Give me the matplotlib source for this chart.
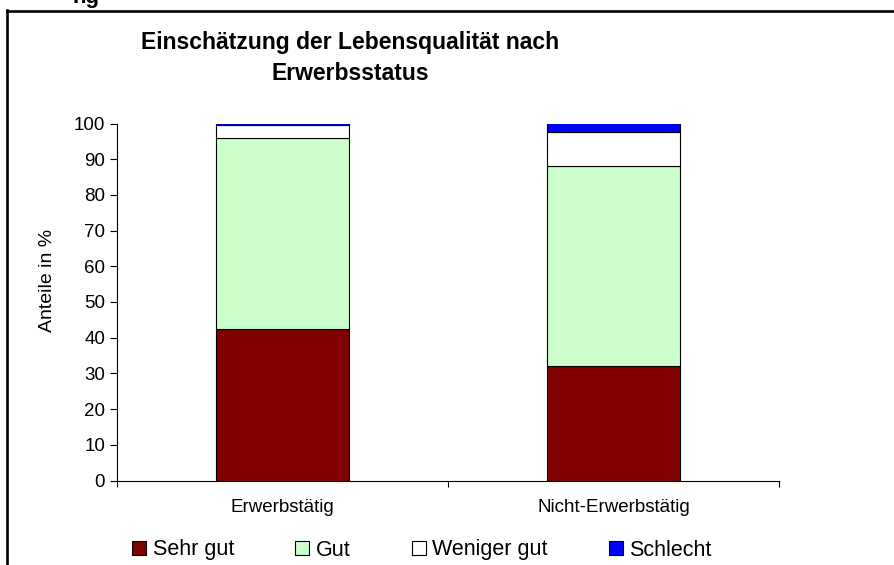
import matplotlib.pyplot as plt
from matplotlib.lines import Line2D
from matplotlib.patches import Patch

plt.rcParams['font.family'] = ['Liberation Sans', 'DejaVu Sans']

# data (percent)
categories = ['Erwerbstätig', 'Nicht-Erwerbstätig']
series_names = ['Sehr gut', 'Gut', 'Weniger gut', 'Schlecht']
sehr_gut = [42.4, 32.0]
gut = [53.5, 56.0]
weniger_gut = [3.7, 9.6]
schlecht = [0.4, 2.4]
colors = ['#800000', '#CCFFCC', '#FFFFFF', '#0000FF']

W, H = 894, 565
fig = plt.figure(figsize=(W / 100, H / 100), dpi=100)
ax = fig.add_axes([117 / W, 1 - 480.5 / H, 662 / W, 357 / H])

x = list(range(len(categories)))
bottom = [0.0] * len(categories)
for name, vals, col in zip(series_names, [sehr_gut, gut, weniger_gut, schlecht], colors):
    ax.bar(x, vals, width=0.4, bottom=bottom, color=col, edgecolor='black',
           linewidth=0.8, label=name)
    bottom = [b + v for b, v in zip(bottom, vals)]

ax.set_xlim(-0.5, 1.5)
ax.set_ylim(0, 100)
ax.set_yticks(range(0, 101, 10))
ax.tick_params(axis='y', direction='out', length=5, width=0.8, pad=3.5, labelsize=13.5)

# ticks on category boundaries, labels at centres
ax.set_xticks([-0.5, 0.5, 1.5])
ax.set_xticklabels([])
ax.set_xticks(x, minor=True)
ax.set_xticklabels(categories, minor=True)
ax.tick_params(axis='x', which='major', direction='out', length=4, width=0.8)
ax.tick_params(axis='x', which='minor', length=0, pad=13.5, labelsize=13.5)

for s in ['top', 'right']:
    ax.spines[s].set_visible(False)
for s in ['left', 'bottom']:
    ax.spines[s].set_linewidth(0.8)

fig.text(47 / W, 1 - 280 / H, 'Anteile in %', rotation=90, ha='center', va='center',
         fontsize=14)

fig.text(350 / W, 1 - 31 / H, 'Einschätzung der Lebensqualität nach\nErwerbsstatus',
         ha='center', va='top', fontsize=16.5, fontweight='bold', linespacing=1.45)

# cut-off heading fragment at the very top
fig.text(100 / W, 1 - 3 / H, 'ng', ha='right', va='baseline', fontsize=16,
         fontweight='bold')

handles = [Patch(facecolor=c, edgecolor='black', linewidth=0.8) for c in colors]
fig.legend(handles, series_names, loc='center', bbox_to_anchor=(422 / W, 1 - 550 / H),
           ncol=4, frameon=False, fontsize=15.5, handlelength=0.65, handleheight=0.65,
           handletextpad=0.3, columnspacing=2.85, borderpad=0, borderaxespad=0)

# frame of the chart area (top and left edges visible)
fig.add_artist(Line2D([7 / W, 1], [1 - 11.3 / H] * 2, color='black', lw=1.9))
fig.add_artist(Line2D([7.3 / W] * 2, [1 - 10 / H, 0], color='black', lw=1.9))

fig.savefig('out.png', dpi=100)
